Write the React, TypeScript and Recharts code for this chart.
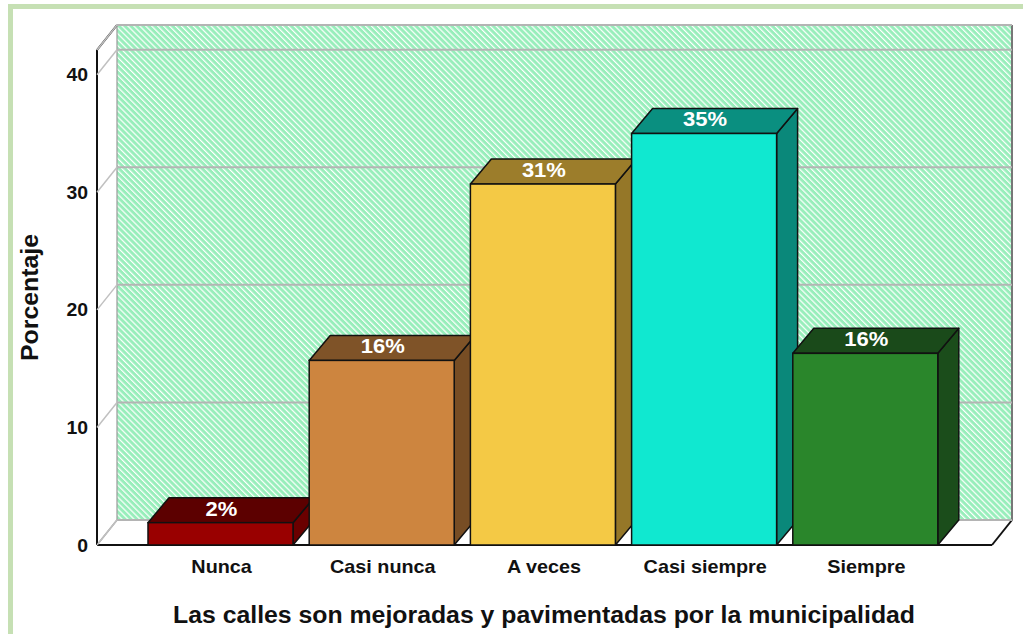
import React from 'react';
import { BarChart, Bar, XAxis, YAxis, CartesianGrid, LabelList } from 'recharts';

const categories = ['Nunca', 'Casi nunca', 'A veces', 'Casi siempre', 'Siempre'];
const values = [1.9, 15.7, 30.7, 35.0, 16.3];
const valueLabels = ['2%', '16%', '31%', '35%', '16%'];
const frontColors = ['#990000', '#cd853f', '#f4c945', '#10e8d0', '#2a862b'];
const topColors = ['#5c0000', '#7f5328', '#9c7d2b', '#0a8f80', '#1a4a1a'];
const sideColors = ['#6a0000', '#774d24', '#957728', '#0a887a', '#1b4d1b'];
const yTicks = [0, 10, 20, 30, 40];
const yDomainMax = 42.1;
const xTitle = 'Las calles son mejoradas y pavimentadas por la municipalidad';
const yTitle = 'Porcentaje';

const data = categories.map((c, i) => ({ name: c, value: values[i], label: valueLabels[i], idx: i }));

// 3D depth of the floor/walls (front plane is offset from the back plane)
const DX = 20;
const DY = 25;
const BAR_DX = 21;
const FONT = '"Liberation Sans", Arial, sans-serif';

const BarShape = (props: any) => {
  const { x, y, width, height, payload } = props;
  const i = payload.idx;
  const fx = x - DX;
  const fy = y + DY;
  const top = `${fx},${fy} ${fx + BAR_DX},${fy - DY} ${fx + width + BAR_DX},${fy - DY} ${fx + width},${fy}`;
  const side = `${fx + width},${fy} ${fx + width + BAR_DX},${fy - DY} ${fx + width + BAR_DX},${fy + height - DY} ${fx + width},${fy + height}`;
  return (
    <g>
      <polygon points={side} fill={sideColors[i]} stroke="#111" strokeWidth={1.5} strokeLinejoin="round" />
      <polygon points={top} fill={topColors[i]} stroke="#111" strokeWidth={1.5} strokeLinejoin="round" />
      <rect x={fx} y={fy} width={width} height={height} fill={frontColors[i]} stroke="#111" strokeWidth={1.5} />
    </g>
  );
};

const ValueLabel = (props: any) => {
  const { x, y, width, value } = props;
  const cx = x + width / 2 - DX + 1;
  const by = y + DY - 7;
  return (
    <text
      transform={`translate(${cx},${by}) scale(1.1,1)`}
      textAnchor="middle"
      fill="#ffffff"
      fontFamily={FONT}
      fontWeight="bold"
      fontSize={20}
    >
      {value}
    </text>
  );
};

const GridLine = (props: any) => {
  const { x1, x2, y1, index } = props;
  const py = props.y;
  const ph = props.height;
  const left = x1;
  const right = x2;
  const bottom = py + ph;
  return (
    <g key={`gl-${index}`}>
      {index === 0 && (
        <g>
          {/* left wall */}
          <polygon
            points={`${left - DX},${py + DY} ${left},${py} ${left},${bottom} ${left - DX},${bottom + DY}`}
            fill="#ffffff"
          />
          {/* floor */}
          <polygon
            points={`${left - DX},${bottom + DY} ${left},${bottom} ${right},${bottom} ${right - DX},${bottom + DY}`}
            fill="#ffffff"
          />
          <line x1={left} y1={py} x2={left} y2={bottom} stroke="#9a9a9a" strokeWidth={1.2} />
          <line x1={left - DX} y1={bottom + DY} x2={left} y2={bottom} stroke="#9a9a9a" strokeWidth={1.5} />
          <line x1={right} y1={py} x2={right} y2={bottom} stroke="#777" strokeWidth={2} />
          <line x1={right - DX} y1={bottom + DY} x2={right} y2={bottom} stroke="#111" strokeWidth={2} />
          <line x1={left} y1={py} x2={right} y2={py} stroke="#111" strokeWidth={2} />
          <line x1={left - DX} y1={py + DY} x2={left} y2={py} stroke="#111" strokeWidth={2} />
          <line x1={left - DX} y1={py + DY} x2={left - DX} y2={bottom + DY} stroke="#111" strokeWidth={2} />
          <line x1={left - DX} y1={bottom + DY} x2={right - DX} y2={bottom + DY} stroke="#111" strokeWidth={2.2} />
        </g>
      )}
      <line x1={left} y1={y1} x2={right} y2={y1} stroke="#b4b4b4" strokeWidth={2} />
      <line x1={left - DX} y1={y1 + DY} x2={left} y2={y1} stroke="#c0c0c0" strokeWidth={1.5} />
    </g>
  );
};

const YTick = (props: any) => {
  const { x, y, payload } = props;
  return (
    <text
      transform={`translate(${x - DX - 9},${y + DY + 6.5}) scale(1.05,1)`}
      textAnchor="end"
      fill="#111"
      fontFamily={FONT}
      fontWeight="bold"
      fontSize={18.5}
    >
      {payload.value}
    </text>
  );
};

const XTick = (props: any) => {
  const { x, y, payload } = props;
  return (
    <text
      transform={`translate(${x - DX + 1},${y + DY + 28}) scale(1.1,1)`}
      textAnchor="middle"
      fill="#111"
      fontFamily={FONT}
      fontWeight="bold"
      fontSize={18}
    >
      {payload.value}
    </text>
  );
};

export default function App() {
  return (
    <div style={{ position: 'absolute', left: 0, top: 0, width: 1023, height: 634, overflow: 'hidden', background: '#fff' }}>
      <svg width={0} height={0} style={{ position: 'absolute' }}>
        <defs>
          <pattern id="hatch" patternUnits="userSpaceOnUse" width={4.2} height={4.2} patternTransform="rotate(-45)">
            <rect x={0} y={0} width={4.2} height={4.2} fill="#98eebb" />
            <rect x={0} y={0} width={1.2} height={4.2} fill="#ffffff" />
          </pattern>
        </defs>
      </svg>
      <div
        style={{
          position: 'absolute',
          left: 8,
          top: 4,
          width: 1100,
          height: 700,
          border: '5px solid #c6e0b4',
          boxSizing: 'border-box',
        }}
      />
      <div style={{ position: 'absolute', left: 0, top: 0 }}>
        <BarChart
          width={1023}
          height={634}
          data={data}
          margin={{ top: 25, right: 11, left: 17, bottom: 74 }}
        >
          <CartesianGrid
            vertical={false}
            horizontal={GridLine}
            fill="url(#hatch)"
            fillOpacity={1}
          />
          <XAxis
            dataKey="name"
            height={40}
            axisLine={false}
            tickLine={false}
            tickSize={0}
            tickMargin={0}
            padding={{ left: 43, right: 46 }}
            interval={0}
            tick={XTick}
            label={{
              content: () => (
                <text
                  x={173}
                  y={623}
                  fill="#111"
                  fontFamily={FONT}
                  fontWeight="bold"
                  fontSize={23}
                  textLength={742}
                  lengthAdjust="spacingAndGlyphs"
                >
                  {xTitle}
                </text>
              ),
            }}
          />
          <YAxis
            width={100}
            domain={[0, yDomainMax]}
            ticks={yTicks}
            axisLine={false}
            tickLine={false}
            tickSize={0}
            tickMargin={0}
            tick={YTick}
            label={{
              content: () => (
                <text
                  transform="translate(38,361) rotate(-90)"
                  fill="#111"
                  fontFamily={FONT}
                  fontWeight="bold"
                  fontSize={24}
                  textLength={127}
                  lengthAdjust="spacingAndGlyphs"
                >
                  {yTitle}
                </text>
              ),
            }}
          />
          <Bar dataKey="value" barSize={145} shape={BarShape} isAnimationActive={false}>
            <LabelList dataKey="label" content={ValueLabel} />
          </Bar>
        </BarChart>
      </div>
    </div>
  );
}
